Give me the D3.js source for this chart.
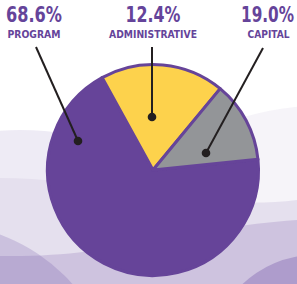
<!DOCTYPE html>
<html><head><meta charset="utf-8">
<script src="https://cdn.jsdelivr.net/npm/d3@7"></script>
<style>html,body{margin:0;padding:0;background:#fff;overflow:hidden}</style>
</head><body>
<script>
const categories = ["PROGRAM", "ADMINISTRATIVE", "CAPITAL"];
const labelPercents = ["68.6%", "12.4%", "19.0%"];
const sliceShares = [68.6, 19.0, 12.4];
const sliceColors = ["#664499", "#FDD24C", "#939598"];

const W = 297, H = 284;
const svg = d3.select("body").append("svg").attr("width", W).attr("height", H);

// background waves
const bg = svg.append("g");
bg.append("ellipse").attr("cx", 330).attr("cy", 300).attr("rx", 250).attr("ry", 195)
  .attr("fill", "rgb(102,70,160)").attr("fill-opacity", 0.06);
bg.append("ellipse").attr("cx", 20).attr("cy", 330).attr("rx", 250).attr("ry", 200)
  .attr("fill", "rgb(102,70,160)").attr("fill-opacity", 0.11);
bg.append("path").attr("d", "M0,178 C100,178 200,212 297,200 L297,284 L0,284 Z").attr("fill", "#E5E0EE");
bg.append("path").attr("d", "M0,256 C120,258 180,228 297,220 L297,284 L0,284 Z").attr("fill", "#CEC3DF");
bg.append("circle").attr("cx", -60).attr("cy", 400).attr("r", 176)
  .attr("fill", "rgb(102,70,160)").attr("fill-opacity", 0.2);
bg.append("circle").attr("cx", 315).attr("cy", 360).attr("r", 105)
  .attr("fill", "rgb(102,70,160)").attr("fill-opacity", 0.31);

// pie
const cx = 153, cy = 170, R = 105.5;
const deg = Math.PI / 180;
const pie = d3.pie().sort(null).value(d => d)
  .startAngle(84.2 * deg).endAngle((84.2 + 360) * deg);
const arcs = pie(sliceShares);
const arc = d3.arc().innerRadius(0).outerRadius(R);
const g = svg.append("g").attr("transform", `translate(${cx},${cy})`);
g.selectAll("path").data(arcs).join("path")
  .attr("d", arc)
  .attr("fill", (d, i) => sliceColors[i])
  .attr("stroke", "#664499").attr("stroke-width", 3).attr("stroke-linejoin", "round");

// pointers
const labelX = [34, 153, 267.5];
const lineTop = [[36, 47], [152, 47], [263, 48]];
const dots = [[78, 141], [152, 117], [206, 153]];
const ptr = svg.append("g");
categories.forEach((c, i) => {
  ptr.append("line").attr("x1", lineTop[i][0]).attr("y1", lineTop[i][1])
    .attr("x2", dots[i][0]).attr("y2", dots[i][1])
    .attr("stroke", "#231F20").attr("stroke-width", 2);
  ptr.append("circle").attr("cx", dots[i][0]).attr("cy", dots[i][1]).attr("r", 4.3).attr("fill", "#231F20");
});

// labels (horizontally condensed via transform to mimic a condensed typeface)
const pctWidths = [56, 55, 53];
const catWidths = [53, 88, 42];
const txt = svg.append("g").attr("fill", "#65449A")
  .attr("font-family", "'DejaVu Sans Condensed','DejaVu Sans',sans-serif")
  .attr("font-weight", "bold").attr("text-anchor", "middle");
function condensed(x, y, size, width, s) {
  const t = txt.append("text").attr("font-size", size).text(s);
  const nat = t.node().getComputedTextLength();
  const sx = width / nat;
  t.attr("transform", `translate(${x},${y}) scale(${sx},1)`);
}
categories.forEach((c, i) => {
  condensed(labelX[i], 21.7, 20.5, pctWidths[i], labelPercents[i]);
  condensed(labelX[i] + (i === 2 ? 1 : 0), 38.3, 10.5, catWidths[i], c);
});
</script>
</body></html>
